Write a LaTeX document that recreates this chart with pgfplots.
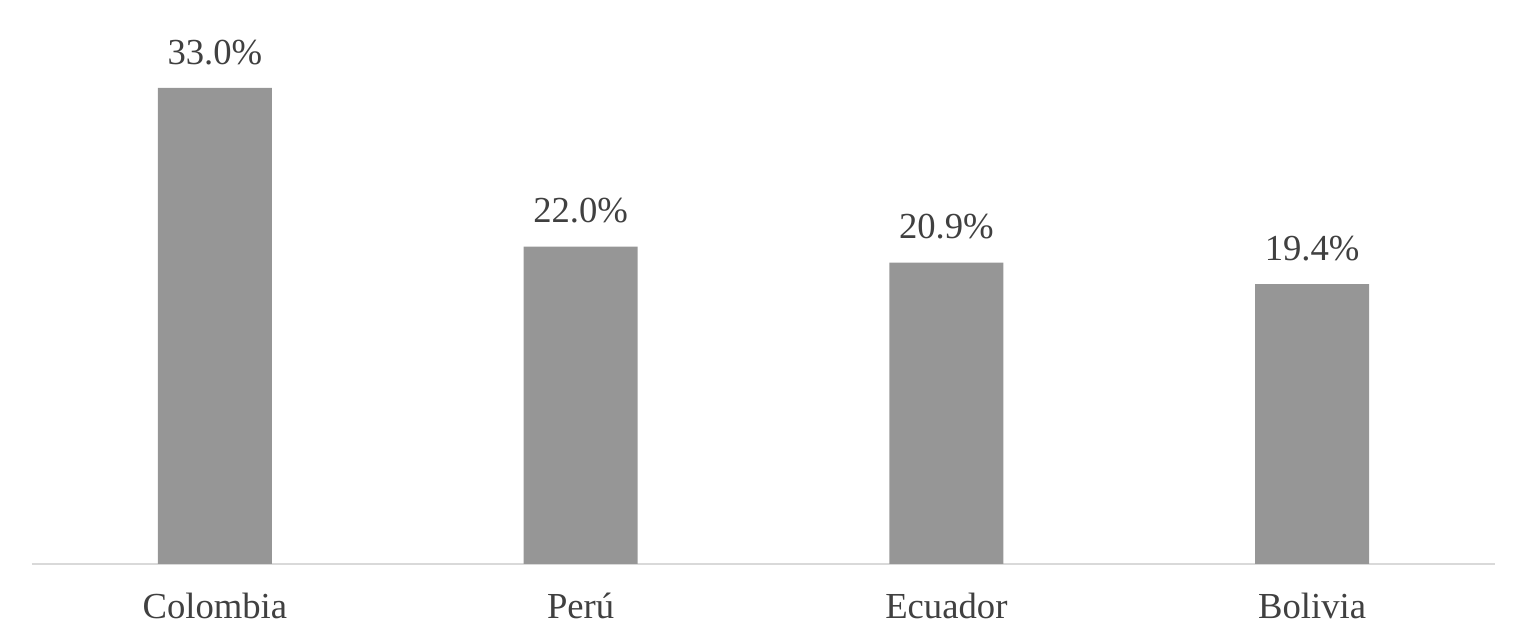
\documentclass[border=0pt]{standalone}
\usepackage{pgfplots}
\pgfplotsset{compat=1.18}
\usepackage{fontspec}
\setmainfont{Liberation Serif}
\definecolor{barg}{HTML}{969696}
\definecolor{txtg}{HTML}{404040}
\definecolor{axg}{HTML}{D9D9D9}
\begin{document}
\begin{tikzpicture}
\useasboundingbox (-9.6pt,-23.4pt) rectangle (449.4pt,169.2pt);
\begin{axis}[
	scale only axis,
	width=438.9pt, height=169.2pt,
	xmin=-0.5, xmax=3.5,
	ymin=0, ymax=39.1,
	axis y line=none,
	axis x line*=bottom,
	x axis line style={draw=axg, line width=0.7pt, -},
	xtick=data,
	xticklabels={Colombia, Perú, Ecuador, Bolivia},
	major tick length=0pt,
	xticklabel style={font=\fontsize{11}{13}\selectfont, text=txtg, inner sep=0pt, yshift=-8.6pt},
	ybar, bar width=34.2pt,
	nodes near coords={\pgfmathprintnumber[fixed, fixed zerofill, precision=1, assume math mode=true]{\pgfplotspointmeta}\%},
	nodes near coords style={font=\fontsize{11}{13}\selectfont, text=txtg, anchor=south, inner sep=0pt, yshift=6.8pt},
]
\addplot[fill=barg, draw=none] coordinates {(0,33.0) (1,22.0) (2,20.9) (3,19.4)};
\end{axis}
\end{tikzpicture}
\end{document}
